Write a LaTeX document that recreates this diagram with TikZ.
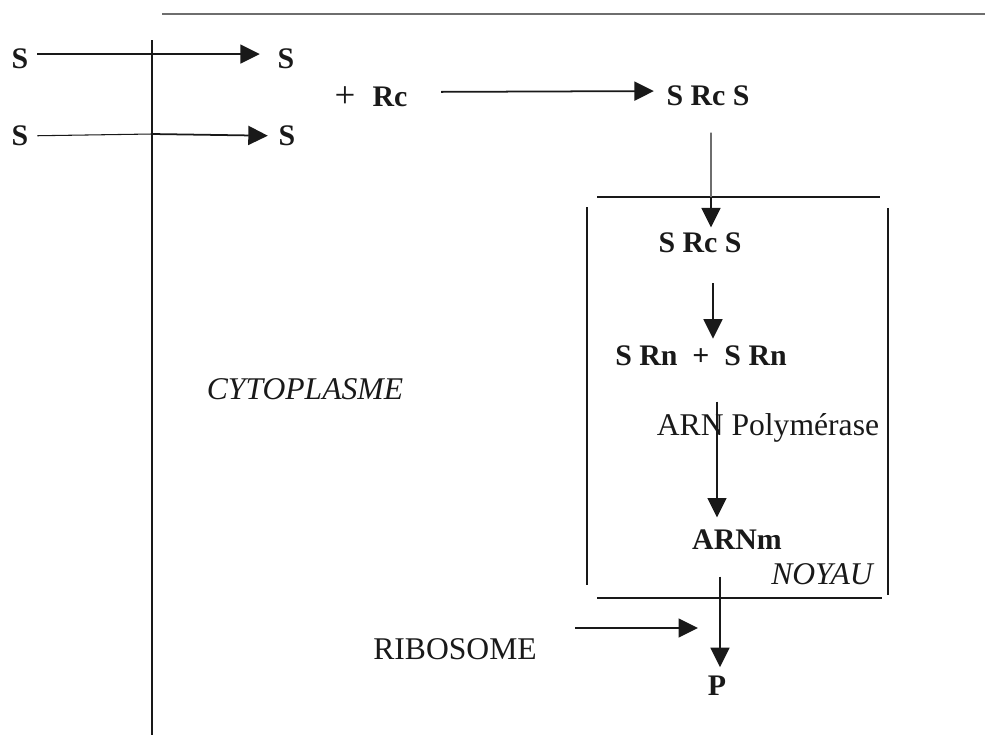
\documentclass[tikz,border=0pt]{standalone}
\usepackage{fontspec}
\setmainfont{Liberation Serif}
\usetikzlibrary{arrows.meta,positioning,calc}
\definecolor{ink}{RGB}{25,25,25}
\definecolor{rulegray}{RGB}{110,110,110}
\tikzset{mol/.style={font=\fontsize{17}{19}\selectfont\bfseries,inner sep=0pt,text=ink},lab/.style={font=\fontsize{18}{20}\selectfont,inner sep=0pt,text=ink},zone/.style={lab,font=\fontsize{18}{20}\selectfont\itshape},flow/.style={-{Triangle[length=3.9mm,width=3.8mm]},line width=1pt,draw=ink},fine/.style={line width=0.6pt,draw=ink},wall/.style={line width=1.2pt,draw=ink}}

\begin{document}
\begin{tikzpicture}[x=0.02cm,y=-0.02cm]
\useasboundingbox (0,0) rectangle (988,735);
% membranes
\draw[rulegray,line width=1.1pt] (162,14)--(985,14);
\draw[wall] (152,40)--(152,735);
\draw[wall] (597,197)--(880,197);
\draw[wall] (587,207)--(587,585);
\draw[wall] (888,208)--(888,595);
\draw[fine] (597,598)--(882,598);
% outside / cytoplasm
\node[mol] (s1) at (20,59) {S};
\node[mol] (s1in) at (286,59) {S};
\node[mol] (s2) at (20,136) {S};
\node[mol] (s2in) at (287,136) {S};
\coordinate (m2) at (152,134);
\node[lab,font=\fontsize{21}{22}\selectfont] (plus) at (345,97) {+};
\node[mol] (rc) at (390,97) {Rc};
\node[mol] (src) at (708,96) {S Rc S};
\node[zone] (cyto) at (305,389) {CYTOPLASME};
\draw[flow,shorten <=5pt,shorten >=10pt] ([yshift=0.1cm]s1.east)--([yshift=0.1cm]s1in.west);
\draw[fine,shorten <=5pt] (s2)--(m2);
\draw[flow,shorten >=6pt] (m2)--(s2in);
\draw[flow,shorten <=19pt,shorten >=7pt] ([yshift=0.1cm]rc.east)--([yshift=0.1cm]src.west);
% nucleus
\coordinate (entry) at (711,197);
\node[mol] (srcn) at (700,243) {S Rc S};
\node[mol] (srn) at (701,356) {S Rn\ \ + \ S Rn};
\node[lab] (pol) at (768,428) {ARN Polymérase};
\node[mol] (arnm) at (737,540) {ARNm};
\node[zone] (noyau) at (822,574) {NOYAU};
\draw[rulegray,line width=0.9pt,shorten <=15pt] ([xshift=0.06cm]src.south)--(entry);
\draw[flow,shorten >=3pt] (entry)--(entry |- srcn.north);
\draw[flow,shorten <=17pt,shorten >=4pt] ([xshift=0.26cm]srcn.south)--([xshift=0.26cm]srcn.south |- srn.north);
\draw[flow,shorten <=20pt,shorten >=7pt] ([xshift=0.32cm]srn.south)--([xshift=0.32cm]srn.south |- arnm.north);
% translation
\node[mol] (p) at (717,686) {P};
\node[lab] (ribo) at (455,649) {RIBOSOME};
\coordinate (ribosite) at (698,628);
\draw[flow,shorten <=15pt,shorten >=5pt] ([xshift=-0.34cm]arnm.south)--([xshift=-0.34cm]arnm.south |- p.north);
\draw[flow] ([xshift=0.76cm,yshift=0.2cm]ribo.north east)--(ribosite);
\end{tikzpicture}
\end{document}
